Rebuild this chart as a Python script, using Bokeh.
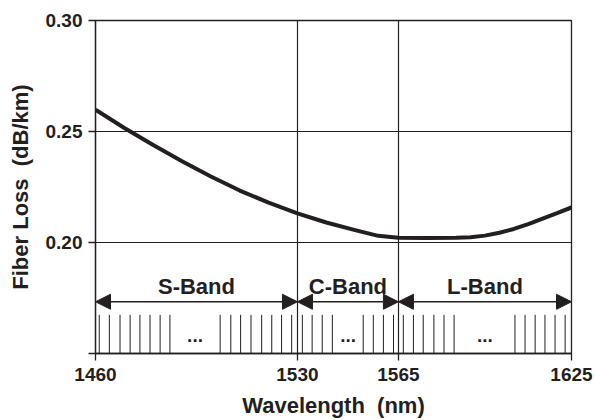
from bokeh.plotting import figure
from bokeh.models import (Range1d, FixedTicker, NumeralTickFormatter, Arrow, NormalHead,
                          ColumnDataSource)
from bokeh.core.properties import value
from bokeh.embed import file_html
from bokeh.resources import INLINE

# ---- data ----
wavelength = [1460, 1470, 1480, 1490, 1500, 1510, 1520, 1530, 1540, 1550,
              1558, 1565, 1575, 1585, 1590, 1595, 1600, 1605, 1610, 1615, 1620, 1625]
loss = [0.2598, 0.2516, 0.2439, 0.2366, 0.2297, 0.2234, 0.2180, 0.2131, 0.2090, 0.2056,
        0.2030, 0.2021, 0.2020, 0.2021, 0.2024, 0.2031, 0.2044, 0.2061, 0.2083, 0.2108,
        0.2132, 0.2158]

x_ticks = [1460, 1530, 1565, 1625]
y_ticks = [0.15, 0.20, 0.25, 0.30]

band_names = ["S-Band", "C-Band", "L-Band"]
band_start = [1460, 1530, 1565]
band_end = [1530, 1565, 1625]

channels = [1461.3, 1464.8, 1468.5, 1472.0, 1475.4, 1478.9, 1482.4, 1485.8,
            1503.2, 1506.9, 1510.3, 1513.9, 1517.6, 1521.1, 1524.5, 1528.0,
            1531.7, 1535.1, 1538.6, 1542.1, 1552.8, 1556.3, 1559.8, 1563.3,
            1566.7, 1570.2, 1573.6, 1577.3, 1580.8, 1584.3,
            1605.4, 1608.9, 1612.4, 1615.8, 1619.3, 1622.8]
ellipsis_x = [1494.5, 1547.6, 1595.0]

INK = "#231f20"
FONT = "Liberation Sans"

p = figure(width=595, height=420, output_backend="svg", toolbar_location=None,
           x_range=Range1d(1460, 1625), y_range=Range1d(0.15, 0.30),
           min_border_left=95, min_border_top=20, min_border_right=24, min_border_bottom=67)
p.background_fill_color = "white"
p.border_fill_color = "white"
p.outline_line_color = INK
p.outline_line_width = 1.3

# axes
for ax in (p.xaxis[0], p.yaxis[0]):
    ax.axis_line_color = INK
    ax.axis_line_width = 1.3
    ax.major_tick_line_color = INK
    ax.major_tick_line_width = 1.3
    ax.major_tick_out = 7
    ax.major_tick_in = 0
    ax.minor_tick_line_color = None
    ax.major_label_text_font = FONT
    ax.major_label_text_font_style = "bold"
    ax.major_label_text_font_size = "19px"
    ax.major_label_text_color = INK
    ax.axis_label_text_font = FONT
    ax.axis_label_text_font_style = "bold"
    ax.axis_label_text_font_size = "22px"
    ax.axis_label_text_color = INK

p.xaxis.ticker = FixedTicker(ticks=x_ticks)
p.yaxis.ticker = FixedTicker(ticks=y_ticks)
p.yaxis.formatter = NumeralTickFormatter(format="0.00")
p.yaxis.major_label_overrides = {0.15: ""}
p.xaxis.major_label_standoff = 7
p.yaxis.major_label_standoff = 6
p.xaxis.major_label_text_line_height = 1.0
p.xaxis.axis_label_text_line_height = 1.0
p.xaxis.axis_label = "Wavelength\u00a0 (nm)"
p.yaxis.axis_label = "Fiber Loss\u00a0 (dB/km)"
p.xaxis.axis_label_standoff = 9
p.yaxis.axis_label_standoff = 10

# grid
p.xgrid.ticker = FixedTicker(ticks=x_ticks)
p.ygrid.ticker = FixedTicker(ticks=y_ticks)
for g in (p.xgrid[0], p.ygrid[0]):
    g.grid_line_color = INK
    g.grid_line_width = 1.2
    g.grid_line_alpha = 1.0

# loss curve
p.line(wavelength, loss, line_width=4, line_color=INK, line_join="round")

# channel marks
p.segment(x0=channels, y0=[0.15] * len(channels), x1=channels, y1=[0.1674] * len(channels),
          line_color=INK, line_width=1)

# band arrows
bands = ColumnDataSource(dict(
    x0=band_start, x1=band_end, y=[0.1733] * 3,
    xm=[(a + b) / 2 for a, b in zip(band_start, band_end)], name=band_names))
p.add_layout(Arrow(source=bands, x_start="x0", y_start="y", x_end="x1", y_end="y",
                   line_color=INK, line_width=1.5,
                   start=NormalHead(size=15, fill_color=INK, line_color=INK, line_width=1),
                   end=NormalHead(size=15, fill_color=INK, line_color=INK, line_width=1)))
p.text(x="xm", y=0.1801, text="name", source=bands,
       text_font=value(FONT), text_font_style="bold", text_font_size="22px",
       text_color=INK, text_align="center", text_baseline="alphabetic")

p.text(x=ellipsis_x, y=[0.1579] * 3, text=["..."] * 3,
       text_font=value(FONT), text_font_style="bold", text_font_size="19px",
       text_color=INK, text_align="center", text_baseline="alphabetic")

open("out.html", "w").write(file_html(p, INLINE))
